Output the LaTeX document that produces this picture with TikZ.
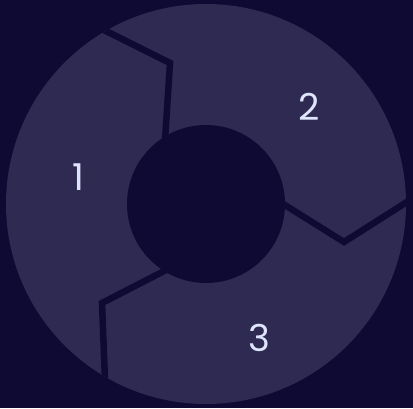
\documentclass[tikz,border=0pt]{standalone}
\usepackage{fontspec}
\setmainfont{Poppins}
\definecolor{bgnavy}{RGB}{14,10,52}
\definecolor{ringfill}{RGB}{46,42,82}
\definecolor{digitcol}{RGB}{222,228,252}
\tikzset{
  divider/.style={draw=bgnavy, line width=6.5pt, line join=miter},
  stepnum/.style={text=digitcol, font=\fontsize{37}{40}\selectfont, inner sep=0pt}
}
\begin{document}
\begin{tikzpicture}[x=1pt, y=-1pt]
		% Background
		\fill[bgnavy] (0,0) rectangle (413,408);
		\useasboundingbox (0,0) rectangle (413,408);
		\coordinate (centre) at (206,204);
		
		% Ring
		\fill[ringfill] (centre) circle (200);
		
		% Dividers
		\begin{scope}
			\clip (centre) circle (200);
			\draw[divider] (100,28) -- (170,63) -- (165,140);
			\draw[divider] (280,202) -- (344,242) -- (410,200);
			\draw[divider] (170,268) -- (102,303) -- (105,380);
		\end{scope}
		
		% Hole
		\fill[bgnavy] (centre) circle (79);
		
		% Labels
		\node[stepnum] (one) at (78,177) {1};
		\node[stepnum] (two) at (309,107) {2};
		\node[stepnum] (three) at (259,338) {3};
		
	\end{tikzpicture}
\end{document}
